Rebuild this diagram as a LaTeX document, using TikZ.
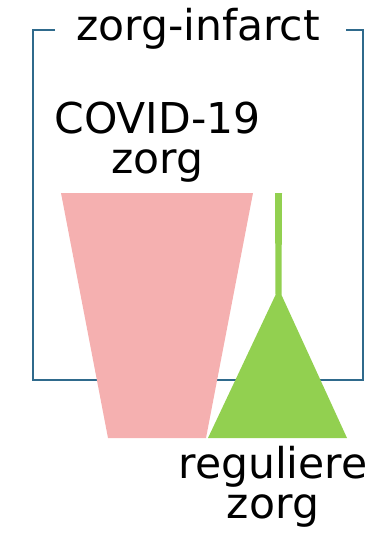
\documentclass[tikz,border=0pt]{standalone}
\usepackage{fontspec}
\setmainfont{DejaVu Sans}
\definecolor{boxblue}{HTML}{2F6A8C}
\definecolor{covpink}{HTML}{F5B0B0}
\definecolor{regreen}{HTML}{92D050}
\begin{document}
\begin{tikzpicture}[x=1pt,y=-1pt,
  lbl/.style={inner sep=0pt,align=center,font=\fontsize{42.5}{40}\selectfont},
  frame/.style={draw=boxblue,line width=2.7pt}]
\useasboundingbox (0,0) rectangle (383,533);
\coordinate (tl) at (33,30);
\coordinate (tr) at (363,30);
\coordinate (br) at (363,380);
\coordinate (bl) at (33,380);
\coordinate (gapl) at (55,30);
\coordinate (gapr) at (346,30);
\draw[frame] (gapl) -- (tl) -- (bl) -- (br) -- (tr) -- (gapr);
\node[lbl,anchor=base] (title) at (198,40.5) {zorg-infarct};
\node[lbl,anchor=base] (covid) at (157.5,173) {COVID-19\\zorg};
\fill[covpink] (61,193) -- (253,193) -- (206,438) -- (108,438) -- cycle;
\fill[regreen] (275,193) -- (282,193) -- (281.5,295) -- (347,438) -- (208,438) -- (275.5,295) -- cycle;
\node[lbl,anchor=base] (reg) at (273,518) {reguliere\\zorg};
\end{tikzpicture}
\end{document}
